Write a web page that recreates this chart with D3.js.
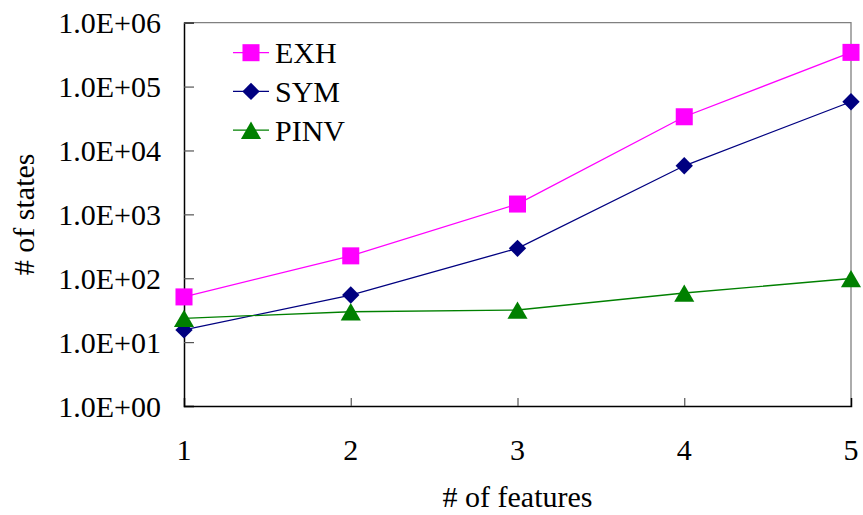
<!DOCTYPE html>
<html>
<head>
<meta charset="utf-8">
<script src="https://cdn.jsdelivr.net/npm/d3@7"></script>
<style>
  body { margin: 0; background: #fff; }
  svg text { font-family: "Liberation Serif", "Times New Roman", Times, "DejaVu Serif", serif; }
</style>
</head>
<body>
<div id="chart"></div>
<script>
// data
const features = [1, 2, 3, 4, 5];
const exh  = [51, 224, 1450, 33700, 343000];
const sym  = [15.5, 54.6, 294, 5760, 57900];
const pinv = [23.6, 29.9, 31.8, 58.7, 99];
const yTickLabels = ["1.0E+00", "1.0E+01", "1.0E+02", "1.0E+03", "1.0E+04", "1.0E+05", "1.0E+06"];

const width = 863, height = 515;
const margin = {top: 22.7, right: 12, bottom: 109, left: 184};
const fontSize = 30;

const svg = d3.select("#chart").append("svg")
  .attr("width", width)
  .attr("height", height);

const x = d3.scaleLinear()
  .domain([1, 5])
  .range([margin.left, width - margin.right]);

const y = d3.scaleLog()
  .domain([1, 1e6])
  .range([height - margin.bottom, margin.top]);

const x0 = x.range()[0], x1 = x.range()[1];
const y0 = y.range()[0], y1 = y.range()[1];

// top and right frame (gray)
svg.append("path")
  .attr("d", `M${x0},${y1}H${x1}V${y0}`)
  .attr("fill", "none")
  .attr("stroke", "#808080")
  .attr("stroke-width", 1.3);

// y axis, ticks pointing inward
const yTicks = yTickLabels.map((d, i) => Math.pow(10, i));
const yAxis = svg.append("g")
  .attr("transform", `translate(${x0},0)`)
  .call(d3.axisRight(y)
    .tickValues(yTicks)
    .tickSize(10)
    .tickFormat(""));
yAxis.select(".domain").attr("stroke", "#000").attr("stroke-width", 1.5);
yAxis.selectAll(".tick line").attr("stroke", "#555").attr("stroke-width", 1.2);

svg.append("g").selectAll("text")
  .data(yTicks)
  .join("text")
    .attr("x", x0 - 23)
    .attr("y", d => y(d))
    .attr("dy", "0.35em")
    .attr("text-anchor", "end")
    .attr("font-size", fontSize)
    .attr("fill", "#000")
    .text((d, i) => yTickLabels[i]);

// x axis, ticks pointing inward
const xAxis = svg.append("g")
  .attr("transform", `translate(0,${y0})`)
  .call(d3.axisTop(x)
    .tickValues([2, 3, 4])
    .tickSize(8)
    .tickFormat(""));
xAxis.select(".domain").attr("stroke", "#000").attr("stroke-width", 1.5);
xAxis.selectAll(".tick line").attr("stroke", "#555").attr("stroke-width", 1.2);

svg.append("g").selectAll("text")
  .data(features)
  .join("text")
    .attr("x", d => x(d))
    .attr("y", 460)
    .attr("text-anchor", "middle")
    .attr("font-size", fontSize)
    .attr("fill", "#000")
    .text(d => d);

// axis titles
svg.append("text")
  .attr("x", (x0 + x1) / 2)
  .attr("y", 507)
  .attr("text-anchor", "middle")
  .attr("font-size", fontSize)
  .text("# of features");

svg.append("text")
  .attr("transform", `translate(34,${(y0 + y1) / 2}) rotate(-90)`)
  .attr("text-anchor", "middle")
  .attr("font-size", fontSize)
  .text("# of states");

// series
const series = [
  {name: "EXH",  values: exh,  color: "#FF00FF", symbol: d3.symbolSquare,   size: 290, rot: 0,  dy: 0},
  {name: "SYM",  values: sym,  color: "#000080", symbol: d3.symbolSquare,   size: 150, rot: 45, dy: 0},
  {name: "PINV", values: pinv, color: "#008000", symbol: d3.symbolTriangle, size: 175, rot: 0,  dy: 3}
];

const line = d3.line()
  .x((d, i) => x(features[i]))
  .y(d => y(d));

const plot = svg.append("g");

series.forEach(s => {
  plot.append("path")
    .datum(s.values)
    .attr("d", line)
    .attr("fill", "none")
    .attr("stroke", s.color)
    .attr("stroke-width", 1.3);
});

series.forEach(s => {
  plot.append("g").selectAll("path")
    .data(s.values)
    .join("path")
      .attr("transform", (d, i) => `translate(${x(features[i])},${y(d) + s.dy}) rotate(${s.rot})`)
      .attr("d", d3.symbol(s.symbol, s.size))
      .attr("fill", s.color);
});

// legend
const legend = svg.append("g")
  .attr("transform", "translate(233,52.7)");

const rows = legend.selectAll("g")
  .data(series)
  .join("g")
    .attr("transform", (d, i) => `translate(0,${i * 38.7})`);

rows.append("line")
  .attr("x1", 0)
  .attr("x2", 36)
  .attr("stroke", d => d.color)
  .attr("stroke-width", 1.3);

rows.append("path")
  .attr("transform", d => `translate(18,${d.dy}) rotate(${d.rot})`)
  .attr("d", d => d3.symbol(d.symbol, d.size)())
  .attr("fill", d => d.color);

rows.append("text")
  .attr("x", 42)
  .attr("dy", "0.35em")
  .attr("font-size", fontSize)
  .text(d => d.name);
</script>
</body>
</html>
